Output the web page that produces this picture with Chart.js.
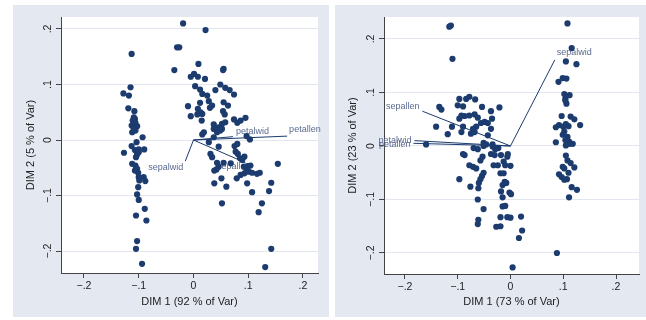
<!DOCTYPE html>
<html>
<head>
<meta charset="utf-8">
<script src="https://cdn.jsdelivr.net/npm/chart.js@4.4.1/dist/chart.umd.min.js"></script>
<style>
  body { margin: 0; width: 646px; height: 320px; overflow: hidden; background: #fff; position: relative; }
  canvas { position: absolute; top: 5px; background: #e4e8f1; }
  #left { left: 13px; }
  #right { left: 335px; }
</style>
</head>
<body>
<canvas id="left" width="316" height="312"></canvas>
<canvas id="right" width="316" height="312"></canvas>
<script>
// tick values shared by both axes of both panels
const tickValues = [-0.2, -0.1, 0, 0.1, 0.2];
const varNames = ["sepallen", "sepalwid", "petallen", "petalwid"];

// panel 1 : DIM 1 (92 %) vs DIM 2 (5 %)
const obs1 = [
  [-0.113,0.155],[-0.115,0.095],[-0.128,0.084],[-0.118,0.080],[-0.119,0.057],[-0.108,0.052],[-0.109,0.041],
  [-0.107,0.038],[-0.111,0.035],[-0.106,0.031],[-0.113,0.026],[-0.103,0.025],[-0.109,0.020],[-0.112,0.014],
  [-0.106,0.017],[-0.093,0.005],[-0.104,-0.004],[-0.113,-0.011],[-0.107,-0.018],[-0.100,-0.017],[-0.090,-0.017],
  [-0.127,-0.023],[-0.103,-0.026],[-0.100,-0.022],[-0.105,-0.031],[-0.112,-0.043],[-0.106,-0.046],[-0.103,-0.052],
  [-0.107,-0.055],[-0.101,-0.059],[-0.100,-0.067],[-0.091,-0.067],[-0.088,-0.074],[-0.099,-0.073],[-0.101,-0.085],
  [-0.103,-0.098],[-0.100,-0.108],[-0.089,-0.124],[-0.105,-0.136],[-0.086,-0.145],[-0.103,-0.182],[-0.105,-0.196],
  [-0.094,-0.223],
  [-0.019,0.210],[0.022,0.198],[-0.030,0.167],[-0.026,0.167],[-0.035,0.126],[0.009,0.137],[0.055,0.128],
  [0.054,0.126],[0.001,0.119],[-0.005,0.114],[0.008,0.114],[0.021,0.110],[0.049,0.100],[0.058,0.094],
  [0.066,0.090],[0.074,0.082],[0.003,0.097],[0.012,0.091],[0.016,0.083],[0.025,0.080],[0.040,0.090],
  [0.028,0.070],[0.034,0.062],[0.030,0.058],[-0.010,0.061],[0.012,0.067],[0.008,0.056],[0.013,0.050],
  [0.007,0.046],[0.016,0.047],[-0.005,0.043],[0.015,0.035],[0.055,0.068],[0.063,0.062],[0.054,0.052],
  [0.057,0.046],[0.074,0.037],[0.080,0.031],[0.086,0.035],[0.095,0.040],[0.037,0.028],[0.046,0.023],
  [0.037,0.020],[0.052,0.029],[0.058,0.032],[0.052,0.020],[0.043,0.014],[0.049,0.017],[0.019,0.014],
  [0.016,0.010],[0.037,0.005],[0.028,-0.004],[0.080,-0.007],[0.097,0.007],[0.103,0.001],[0.046,-0.012],
  [0.075,-0.011],[0.031,-0.025],[0.034,-0.031],[0.077,-0.021],[0.081,-0.025],[0.085,-0.033],[0.089,-0.036],
  [0.093,-0.030],[0.043,-0.041],[0.055,-0.041],[0.068,-0.042],[0.046,-0.048],[0.038,-0.055],[0.042,-0.053],
  [0.092,-0.048],[0.099,-0.047],[0.104,-0.046],[0.097,-0.055],[0.093,-0.060],[0.101,-0.057],[0.086,-0.063],
  [0.107,-0.059],[0.116,-0.061],[0.121,-0.059],[0.079,-0.069],[0.051,-0.069],[0.038,-0.078],[0.060,-0.084],
  [0.098,-0.078],[0.107,-0.094],[0.154,-0.043],[0.142,-0.077],[0.138,-0.092],[0.052,-0.114],[0.125,-0.114],
  [0.119,-0.130],[0.142,-0.196],[0.131,-0.229]
];
const load1X = [0.095, -0.015, 0.171, 0.072];
const load1Y = [-0.041, -0.038, 0.007, 0.006];

// panel 2 : DIM 1 (73 %) vs DIM 2 (23 %)
const obs2 = [
  [-0.116,0.223],[-0.113,0.225],[-0.110,0.163],
  [-0.135,0.073],[-0.131,0.068],[-0.097,0.088],[-0.100,0.076],[-0.090,0.074],[-0.084,0.088],[-0.078,0.092],
  [-0.067,0.087],[-0.054,0.073],[-0.037,0.065],[-0.021,0.072],[-0.093,0.057],[-0.097,0.051],[-0.087,0.056],
  [-0.078,0.057],[-0.068,0.059],[-0.062,0.053],[-0.049,0.045],[-0.043,0.043],[-0.035,0.051],[-0.056,0.043],
  [-0.141,0.036],[-0.111,0.036],[-0.090,0.036],[-0.093,0.026],[-0.071,0.032],[-0.065,0.036],[-0.037,0.032],
  [-0.119,0.022],[-0.075,0.023],[-0.068,0.026],[-0.043,0.020],[-0.160,0.003],[-0.051,0.006],[-0.034,0.003],
  [-0.046,0.003],
  [-0.090,-0.015],[-0.087,-0.017],[-0.070,-0.004],[-0.062,-0.006],[-0.051,0.000],[-0.034,-0.001],[-0.029,-0.006],
  [-0.023,-0.004],[-0.037,-0.015],[-0.030,-0.017],[-0.018,-0.017],[-0.005,-0.015],[-0.006,-0.020],[-0.053,-0.020],
  [-0.057,-0.027],[-0.013,-0.029],[-0.010,-0.036],[0.000,-0.037],[-0.078,-0.036],[-0.071,-0.039],[-0.065,-0.042],
  [-0.032,-0.036],[-0.024,-0.036],[-0.051,-0.050],[-0.054,-0.056],[-0.057,-0.062],[-0.019,-0.051],[-0.013,-0.051],
  [-0.097,-0.062],[-0.060,-0.069],[-0.061,-0.079],[-0.076,-0.076],[-0.011,-0.067],[-0.008,-0.069],[-0.015,-0.073],
  [-0.018,-0.085],[-0.002,-0.087],[0.001,-0.090],[-0.015,-0.096],[-0.062,-0.100],[-0.015,-0.113],[-0.010,-0.112],
  [-0.051,-0.118],[-0.019,-0.133],[-0.006,-0.133],[0.000,-0.134],[0.020,-0.132],[-0.061,-0.138],[-0.062,-0.146],
  [-0.027,-0.151],[-0.019,-0.150],[0.022,-0.158],[0.016,-0.172],[0.004,-0.227],
  [0.108,0.229],[0.116,0.183],[0.125,0.153],[0.105,0.158],[0.091,0.120],[0.099,0.127],[0.106,0.126],
  [0.102,0.097],[0.104,0.088],[0.112,0.095],[0.106,0.079],[0.104,0.085],[0.097,0.056],[0.114,0.055],
  [0.121,0.050],[0.086,0.035],[0.092,0.039],[0.100,0.036],[0.105,0.041],[0.110,0.037],[0.132,0.039],
  [0.102,0.027],[0.099,0.021],[0.108,0.017],[0.104,0.011],[0.111,0.008],[0.112,0.004],[0.086,0.007],
  [0.105,0.001],[0.118,0.004],[0.105,-0.018],[0.108,-0.027],[0.114,-0.032],[0.099,-0.039],[0.102,-0.042],
  [0.121,-0.040],[0.110,-0.050],[0.092,-0.053],[0.097,-0.058],[0.102,-0.063],[0.107,-0.062],[0.116,-0.077],
  [0.126,-0.082],[0.111,-0.096],[0.088,-0.200]
];
const load2X = [-0.167, 0.084, -0.184, -0.182];
const load2Y = [0.065, 0.161, 0.005, 0.010];

const FONT = "'Liberation Sans', Arial, sans-serif";
const NAVY = "#1c3b6e";
const LABEL = "#5b6a90";
const AXIS = "#444";

function fmt(v) {
  if (Math.abs(v) < 1e-9) return "0";
  return (v < 0 ? "\u2212" : "") + String(Math.abs(v)).replace(/^0/, "");
}

// label placement around each vector tip: [align, dx, dy]
function makePlugin(labelPos) {
  return {
    id: "panel",
    beforeDraw(chart) {
      const { ctx, chartArea: a } = chart;
      ctx.save();
      ctx.fillStyle = "#fff";
      ctx.fillRect(a.left, a.top, a.right - a.left, a.bottom - a.top);
      ctx.restore();
    },
    beforeDatasetsDraw(chart) {
      const { ctx, scales } = chart;
      ctx.save();
      ctx.font = "9px " + FONT;
      ctx.fillStyle = LABEL;
      ctx.textBaseline = "middle";
      chart.data.datasets.forEach((ds) => {
        if (!ds.varName) return;
        const tip = ds.data[1];
        const p = labelPos[ds.varName];
        ctx.textAlign = p[0];
        ctx.fillText(ds.varName, scales.x.getPixelForValue(tip.x) + p[1], scales.y.getPixelForValue(tip.y) + p[2]);
      });
      ctx.restore();
    },
    afterDraw(chart) {
      const { ctx, chartArea: a, scales } = chart;
      ctx.save();
      ctx.font = "10.5px " + FONT;
      ctx.fillStyle = "#222";
      ctx.textAlign = "center";
      ctx.textBaseline = "middle";
      tickValues.forEach((v) => {
        ctx.save();
        ctx.translate(a.left - 12.5, scales.y.getPixelForValue(v));
        ctx.rotate(-Math.PI / 2);
        ctx.fillText(fmt(v), 0, 0);
        ctx.restore();
      });
      ctx.restore();
    }
  };
}

function biplot(id, obs, lx, ly, xr, yr, box, xTitle, yTitle, labelPos) {
  const datasets = [{
    data: obs.map((p) => ({ x: p[0], y: p[1] })),
    pointRadius: 3.1,
    pointBackgroundColor: NAVY,
    pointBorderWidth: 0,
    order: 0
  }];
  varNames.forEach((n, i) => {
    datasets.push({
      varName: n,
      data: [{ x: 0, y: 0 }, { x: lx[i], y: ly[i] }],
      showLine: true,
      borderColor: NAVY,
      borderWidth: 1,
      pointRadius: 0,
      order: 1
    });
  });
  const titleFont = { family: FONT, size: 11 };
  return new Chart(document.getElementById(id), {
    type: "scatter",
    data: { datasets },
    plugins: [makePlugin(labelPos)],
    options: {
      responsive: false,
      animation: false,
      devicePixelRatio: 1,
      layout: { padding: { top: box.top, right: box.right, left: 0, bottom: 0 } },
      plugins: { legend: { display: false }, tooltip: { enabled: false } },
      scales: {
        x: {
          type: "linear", min: xr[0], max: xr[1],
          afterBuildTicks: (s) => { s.ticks = tickValues.map((v) => ({ value: v })); },
          afterFit: (s) => { s.height = box.xh; },
          grid: { drawOnChartArea: false, drawTicks: true, tickLength: 5, tickColor: AXIS },
          border: { display: true, color: AXIS, width: 1 },
          ticks: { color: "#222", font: { family: FONT, size: 10.5 }, padding: 2, maxRotation: 0, autoSkip: false, callback: fmt },
          title: { display: true, text: xTitle, color: "#222", font: titleFont, padding: { top: 0, bottom: 8.4 } }
        },
        y: {
          type: "linear", min: yr[0], max: yr[1],
          afterBuildTicks: (s) => { s.ticks = tickValues.map((v) => ({ value: v })); },
          afterFit: (s) => { s.width = box.yw; },
          grid: { color: "#e2e6ee", lineWidth: 1, drawTicks: true, tickLength: 5, tickColor: AXIS },
          border: { display: true, color: AXIS, width: 1 },
          ticks: { display: false },
          title: { display: true, text: yTitle, color: "#222", font: titleFont, padding: { top: 11.4, bottom: 0 } }
        }
      }
    }
  });
}

biplot("left", obs1, load1X, load1Y, [-0.242, 0.2274], [-0.2396, 0.2216],
  { top: 12, right: 11, xh: 44, yw: 48 },
  "DIM 1 (92 % of Var)", "DIM 2 (5 % of Var)",
  { sepallen: ["right", 5, 4], sepalwid: ["right", -2, 6], petallen: ["left", 2, -7], petalwid: ["left", 3, -5] });

biplot("right", obs2, load2X, load2Y, [-0.2398, 0.2436], [-0.2393, 0.2411],
  { top: 12, right: 12, xh: 43, yw: 49 },
  "DIM 1 (73 % of Var)", "DIM 2 (23 % of Var)",
  { sepallen: ["right", -3, -5], sepalwid: ["left", 2, -7], petallen: ["right", -3, 1], petalwid: ["right", -3, 0] });
</script>
</body>
</html>
